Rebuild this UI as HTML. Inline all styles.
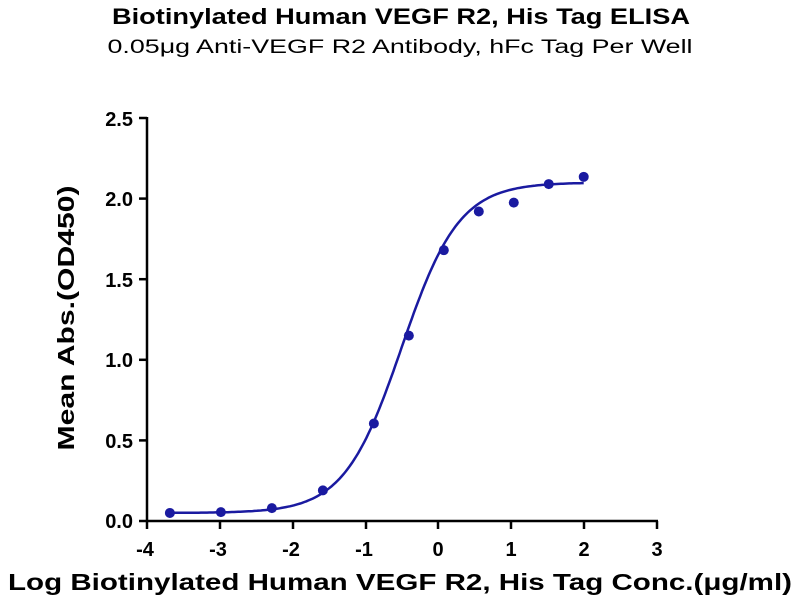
<!DOCTYPE html>
<html><head><meta charset="utf-8"><style>
body{margin:0;background:#fff;}
svg text{font-family:"Liberation Sans",Arial,sans-serif;}
</style></head><body>
<svg id="s" width="800" height="600" viewBox="0 0 800 600" xmlns="http://www.w3.org/2000/svg">
<text x="401" y="24" text-anchor="middle" font-size="22" font-weight="bold" textLength="578" lengthAdjust="spacingAndGlyphs">Biotinylated Human VEGF R2, His Tag ELISA</text>
<text x="400" y="53" text-anchor="middle" font-size="19" textLength="585" lengthAdjust="spacingAndGlyphs">0.05μg Anti-VEGF R2 Antibody, hFc Tag Per Well</text>
<g stroke="#000" stroke-width="2.5" fill="none">
<line x1="147" y1="117" x2="147" y2="522"/>
<line x1="146" y1="521" x2="658" y2="521"/>
<line x1="139" y1="118" x2="147" y2="118"/>
<line x1="139" y1="198.6" x2="147" y2="198.6"/>
<line x1="139" y1="279.2" x2="147" y2="279.2"/>
<line x1="139" y1="359.8" x2="147" y2="359.8"/>
<line x1="139" y1="440.4" x2="147" y2="440.4"/>
<line x1="139" y1="521" x2="147" y2="521"/>
<line x1="147" y1="521" x2="147" y2="529"/>
<line x1="220" y1="521" x2="220" y2="529"/>
<line x1="293" y1="521" x2="293" y2="529"/>
<line x1="366" y1="521" x2="366" y2="529"/>
<line x1="438" y1="521" x2="438" y2="529"/>
<line x1="511" y1="521" x2="511" y2="529"/>
<line x1="584" y1="521" x2="584" y2="529"/>
<line x1="657" y1="521" x2="657" y2="529"/>
</g>
<g font-size="20" font-weight="bold" text-anchor="end">
<text x="133" y="126">2.5</text><text x="133" y="206">2.0</text><text x="133" y="287">1.5</text>
<text x="133" y="367">1.0</text><text x="133" y="448">0.5</text><text x="133" y="528">0.0</text>
</g>
<g font-size="20" font-weight="bold" text-anchor="middle">
<text x="145" y="556">-4</text><text x="218" y="556">-3</text><text x="291" y="556">-2</text><text x="364" y="556">-1</text>
<text x="438" y="556">0</text><text x="511" y="556">1</text><text x="584" y="556">2</text><text x="657" y="556">3</text>
</g>
<text transform="translate(74,318) rotate(-90)" text-anchor="middle" font-size="23" font-weight="bold" textLength="265" lengthAdjust="spacingAndGlyphs">Mean Abs.(OD450)</text>
<text x="400" y="590" text-anchor="middle" font-size="23" font-weight="bold" textLength="784" lengthAdjust="spacingAndGlyphs">Log Biotinylated Human VEGF R2, His Tag Conc.(μg/ml)</text>
<path id="c" fill="none" stroke="#1a1aa0" stroke-width="2.5"/>
<g id="pts" fill="#1a1aa0"></g>
</svg>
<script>
var X=function(v){return 438+v*72.86;},Y=function(v){return 521-v*161.2;};
function f(x){return 0.05+2.05/(1+Math.pow(10,(-0.5-x)*1.1));}
var d="";for(var i=0;i<=200;i++){var x=-3.68+i*(5.68/200);d+=(i?"L":"M")+X(x).toFixed(1)+","+Y(f(x)).toFixed(1);}
document.getElementById("c").setAttribute("d",d);
var p=[[-3.68,0.05],[-2.98,0.055],[-2.28,0.08],[-1.58,0.19],[-0.88,0.605],[-0.4,1.15],[0.08,1.68],[0.56,1.92],[1.04,1.975],[1.52,2.09],[2.0,2.135]];
var g=document.getElementById("pts"),h="";
p.forEach(function(q){h+='<circle cx="'+X(q[0])+'" cy="'+Y(q[1])+'" r="5"/>';});
g.innerHTML=h;
</script>
</body></html>
